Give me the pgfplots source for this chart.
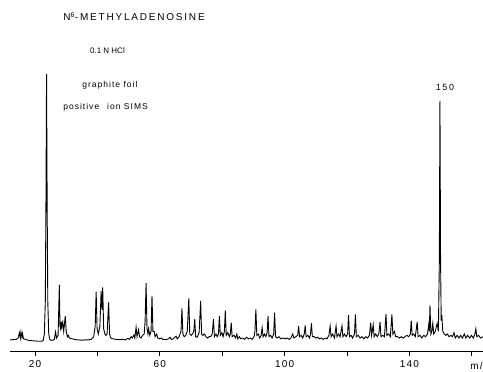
\documentclass[border=0pt]{standalone}
\usepackage{pgfplots}
\usepackage{pgfplotstable}
\pgfplotsset{compat=1.18}
\usepackage{fontspec}
\setmainfont{Liberation Sans}
\newfontfamily\lett[LetterSpace=18]{Liberation Sans}
\newfontfamily\lettb[LetterSpace=12]{Liberation Sans}

\pgfplotstableread{
m I
12.0 0.8
13.0 0.9
14.0 1.0
14.6 1.5
15.0 3.5
15.3 1.5
15.5 3.8
15.8 1.8
16.0 3.2
16.3 1.2
17.0 1.0
18.0 0.6
19.0 0.5
20.0 0.4
21.0 0.3
22.0 0.3
22.6 0.5
23.0 3
23.3 15
23.5 50
23.7 100
23.9 50
24.1 15
24.4 3
24.8 0.8
25.5 0.6
26.2 1.0
26.6 3.8
26.9 1.5
27.4 2.5
27.8 21.3
28.0 6
28.2 5
28.4 7.6
28.6 5.5
28.9 7.4
29.2 4
29.7 9.7
30.0 4
30.4 2
30.7 2.5
31.0 1.5
32.0 1.2
33.0 0.9
34.0 0.8
35.0 0.7
36.0 0.8
37.0 0.8
38.0 1.0
38.8 2
39.3 6
39.6 18.8
39.9 5
40.3 3
40.8 6
41.2 19
41.5 12
41.7 20.4
42.0 5
42.4 3
42.7 2.5
43.1 3
43.6 14.8
43.9 3
44.3 1.5
45.0 1.2
46.0 1.0
47.0 0.9
48.0 1.0
49.0 0.8
49.8 1.4
50.3 1.0
50.8 2
51.2 1.5
51.7 2.6
52.0 1.5
52.4 5.5
52.7 2
53.2 4.6
53.5 2
54.0 1.5
54.5 2.5
55.0 3
55.3 8
55.6 22
55.9 5
56.2 3
56.4 5
56.8 2.5
57.2 4
57.5 17.2
57.8 4
58.2 4
58.5 2
59.0 3
59.3 1.5
60.0 1.2
60.5 1.5
61.0 1.0
62.0 0.9
62.8 1.2
63.3 1.8
63.7 0.9
64.3 1.2
65.2 2.2
65.6 1.2
66.2 2
66.8 4
67.1 12.6
67.4 3
67.8 2
68.3 2.5
68.8 4
69.3 16.3
69.6 3
70.1 2.5
70.5 3
70.9 4
71.2 8.5
71.5 2
72.0 1.8
72.6 3.5
73.1 15.3
73.4 3
73.8 2.5
74.3 3
74.8 2
75.3 1.5
75.8 2
76.3 2
76.8 3
77.2 8.5
77.5 2
78.0 3
78.4 2
78.8 3
79.1 9.7
79.4 2.5
79.9 3.5
80.3 2
80.7 4
81.0 11.7
81.3 2.5
81.8 3.5
82.3 2
82.6 3
82.9 7.2
83.2 2
83.8 2.5
84.3 1.5
84.7 3
85.0 1.2
85.5 2
86.0 1.2
86.6 1.5
87.2 1.0
87.8 1.8
88.4 1.2
89.0 1.5
89.6 1.0
90.2 2
90.5 4
90.8 12.2
91.1 2.5
91.6 3
92.0 1.5
92.5 2.5
92.8 5.4
93.1 2
93.6 3
94.0 2
94.4 3.5
94.7 9.7
95.0 2
95.5 2.5
96.0 1.5
96.5 3
96.8 11
97.1 2
97.6 1.5
98.2 2
98.8 1.2
99.5 1.5
100.2 1.2
100.8 1.5
101.5 1.0
102.0 1.5
102.6 3
103.0 1.5
103.6 2
104.2 2.5
104.5 6
104.8 2
105.3 2.5
105.8 1.5
106.3 3
106.6 6.2
106.9 2
107.5 2.5
108.0 1.5
108.3 3
108.6 7
108.9 2
109.5 2
110.0 1.5
110.6 1.8
111.2 1.2
111.8 1.5
112.4 1.0
113.0 1.5
113.6 1.2
114.2 2.5
114.6 6
114.9 2
115.4 3
116.0 1.5
116.5 6
116.8 2
117.3 3
117.8 2
118.4 6
118.7 2
119.2 3
119.7 2
120.2 3
120.5 10
120.8 2
121.3 2.5
121.8 1.5
122.4 3
122.7 10.3
123.0 2
123.6 2.5
124.2 1.5
124.8 2
125.4 1.2
126.0 2
126.6 1.5
127.2 2.5
127.6 7.2
127.9 2.5
128.4 6.5
128.7 2
129.2 3
129.7 2
130.2 3
130.6 7.5
130.9 2
131.5 2.5
132.0 2
132.5 10.4
132.8 2.5
133.4 3
133.9 2
134.4 10.3
134.7 3
135.2 4
135.6 2
136.2 2
136.8 1.5
137.4 2
138.0 1.5
138.6 2
139.2 2.5
139.8 2
140.3 3
140.6 8
140.9 2.5
141.4 3
141.9 2
142.5 7.5
142.8 2
143.4 2.5
144.0 1.5
144.6 2.5
145.2 2
145.8 3
146.2 6.5
146.4 4
146.6 13.7
146.9 3
147.2 4
147.5 7
147.8 3
148.3 4
148.9 7
149.3 4
149.6 30
149.8 90
150.0 30
150.2 8
150.4 10
150.7 4
151.2 3
151.7 2.5
152.2 3
152.7 2
153.3 2.5
153.8 2
154.3 3.5
154.7 1.5
155.3 2.5
155.9 1.5
156.4 2.5
157.0 1.5
157.6 3
158.1 1.5
158.7 2.5
159.3 1.5
159.9 2.5
160.5 1.5
161.0 3
161.3 5
161.6 2
162.2 2.5
162.8 1.5
163.6 2
}\spectrum

\begin{document}
\begin{tikzpicture}
\begin{axis}[
  name=ax,
  scale only axis,
  width=483pt, height=351.7pt,
  xmin=8.78, xmax=163.6,
  ymin=-3.6, ymax=127.6,
  hide y axis,
  axis x line*=bottom,
  x axis line style={draw=none},
  xtick={20,40,60,80,100,120,140,160},
  xticklabels={20,,60,,100,,140,},
  tick align=outside,
  major tick length=4pt,
  tick style={black, line width=0.8pt},
  xticklabel style={font=\fontsize{10}{12}\lettb, yshift=-1pt},
  clip=false,
]
\addplot[black, line width=0.9pt] table[x=m, y=I] {\spectrum};
\draw[black, line width=1pt] (axis cs:12,-3.6) -- (axis cs:163.6,-3.6);
\node[anchor=north west, inner sep=0pt, font=\fontsize{10}{12}\lettb] at (axis cs:159.5,-7.6) {m/z};
\node[anchor=base west, inner sep=0pt, font=\fontsize{10}{12}\lett] at (axis cs:29.0,119.8) {N\textsuperscript{6}-METHYLADENOSINE};
\node[anchor=base west, inner sep=0pt, font=\fontsize{8}{10}\selectfont] at (axis cs:37.6,107.8) {0.1 N HCl};
\node[anchor=base west, inner sep=0pt, font=\fontsize{8.5}{10}\lettb] at (axis cs:35.1,95.1) {graphite foil};
\node[anchor=base west, inner sep=0pt, font=\fontsize{8.5}{10}\lettb] at (axis cs:29.0,86.6) {positive\hspace{8pt}ion SIMS};
\node[anchor=base, inner sep=0pt, font=\fontsize{9}{10}\lett] at (axis cs:151.4,93.7) {150};
\end{axis}
\pgfresetboundingbox
\path ([yshift=-19.3pt]ax.south west) rectangle (ax.north east);
\end{tikzpicture}
\end{document}
